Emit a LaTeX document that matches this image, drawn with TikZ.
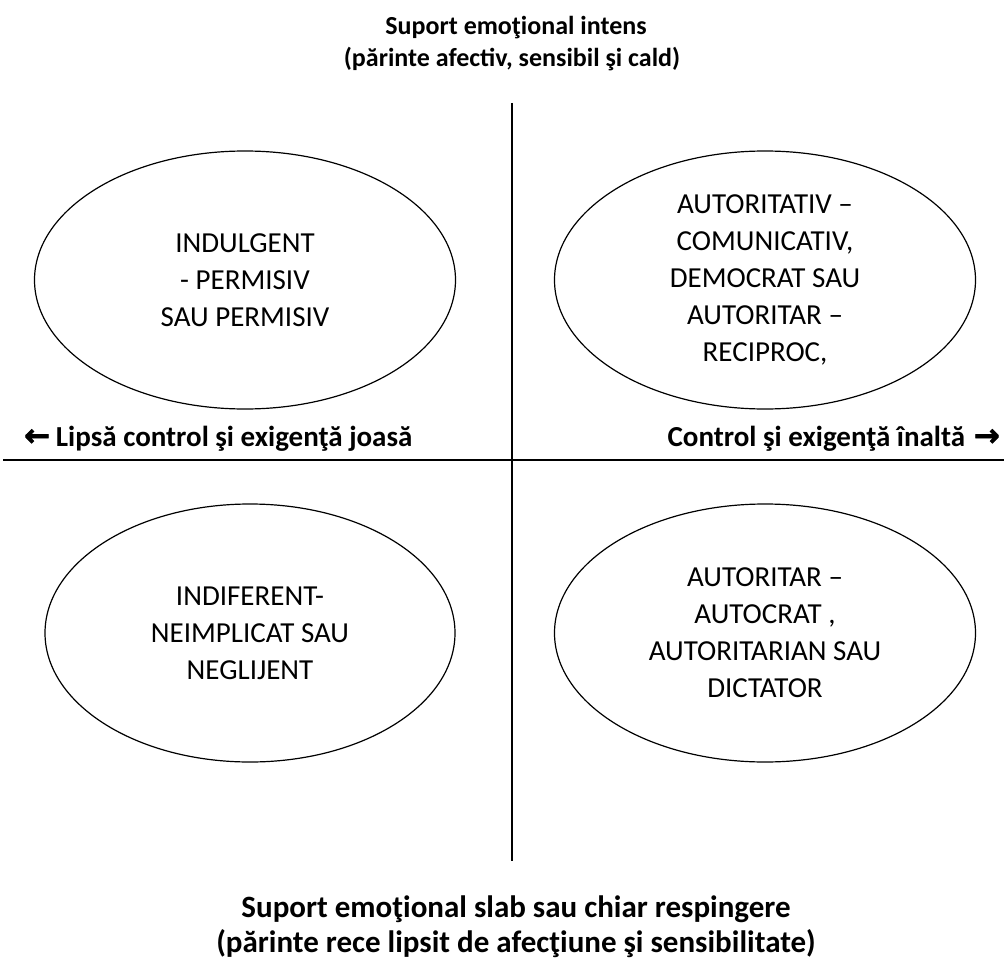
\documentclass[tikz,border=0pt]{standalone}
\usepackage{fontspec}
\setmainfont{Carlito}
\newfontfamily\arrowfont{DejaVu Sans}[FakeBold=2]
\usetikzlibrary{shapes.geometric}
\tikzset{
  ell/.style={draw, line width=1.2pt, ellipse, inner sep=0pt},
  elltext/.style={align=center, font=\fontsize{29}{37}\selectfont},
  axislabel/.style={font=\fontsize{29}{34}\selectfont\bfseries, anchor=base, inner sep=0pt},
  titletop/.style={font=\fontsize{26}{31}\selectfont\bfseries, anchor=base, inner sep=0pt},
  titlebot/.style={font=\fontsize{31}{36}\selectfont\bfseries, anchor=base, inner sep=0pt},
  axisline/.style={line width=1.2pt},
}
\newcommand{\larr}{{\arrowfont\fontsize{31}{31}\selectfont ←}}
\newcommand{\rarr}{{\arrowfont\fontsize{31}{31}\selectfont →}}
\begin{document}
\begin{tikzpicture}[x=1pt,y=-1pt]
\useasboundingbox (0,0) rectangle (1004,963);
% titles
\node[titletop] (t1) at (516,35) {Suport emoţional intens};
\node[titletop] (t2) at (512,67) {(părinte afectiv, sensibil şi cald)};
\node[titlebot] (b1) at (516,917) {Suport emoţional slab sau chiar respingere};
\node[titlebot] (b2) at (516,952) {(părinte rece lipsit de afecţiune şi sensibilitate)};
% axes
\coordinate (vtop) at (512,103);
\coordinate (vbot) at (512,861);
\coordinate (hl) at (3,460);
\coordinate (hr) at (1004,460);
\draw[axisline] (vtop) -- (vbot);
\draw[axisline] (hl) -- (hr);
\node[axislabel, anchor=base west] (lx) at (24,446) {\larr\hspace{0.2em}Lipsă control şi exigenţă joasă};
\node[axislabel, anchor=base east] (rx) at (1000,446) {Control şi exigenţă înaltă\hspace{0.3em}\rarr};
% ellipses
\node[ell, minimum width=421pt, minimum height=258pt] (tl) at (245,280) {};
\node[ell, minimum width=421pt, minimum height=258pt] (tr) at (765,280) {};
\node[ell, minimum width=410pt, minimum height=258pt] (bl) at (250,633) {};
\node[ell, minimum width=421pt, minimum height=258pt] (br) at (765,633) {};
\node[elltext] (tlt) at (tl.center) {INDULGENT\\- PERMISIV\\SAU PERMISIV};
\node[elltext] (trt) at (tr.center) {AUTORITATIV –\\COMUNICATIV,\\DEMOCRAT SAU\\AUTORITAR –\\RECIPROC,};
\node[elltext] (blt) at (bl.center) {INDIFERENT-\\NEIMPLICAT SAU\\NEGLIJENT};
\node[elltext] (brt) at (br.center) {AUTORITAR –\\AUTOCRAT ,\\AUTORITARIAN SAU\\DICTATOR};
\end{tikzpicture}
\end{document}
